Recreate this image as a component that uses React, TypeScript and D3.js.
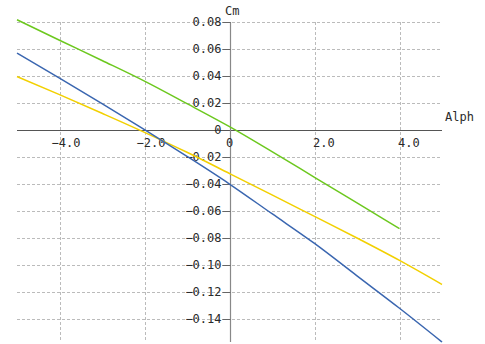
import React, { useEffect, useRef } from "react";
import * as d3 from "d3";

// angle of attack (deg)
const alpha = [-5, -4, -3, -2, -1, 0, 1, 2, 3, 4, 5];

// pitching moment coefficient for each run
const cmGreen = [0.0817, 0.0665, 0.0515, 0.0362, 0.0195, 0.0025, -0.016, -0.035, -0.054, -0.073];
const cmBlue = [0.057, 0.0385, 0.0196, 0.0003, -0.0195, -0.04, -0.062, -0.084, -0.108, -0.132, -0.157];
const cmYellow = [0.0396, 0.0262, 0.0124, -0.0017, -0.0165, -0.0322, -0.048, -0.064, -0.08, -0.0966, -0.1144];

const xTicks = [-4, -2, 0, 2, 4];
const yTicks = [0.08, 0.06, 0.04, 0.02, 0, -0.02, -0.04, -0.06, -0.08, -0.1, -0.12, -0.14];

const W = 485;
const H = 344;
const FONT = "'DejaVu Sans Mono', monospace";

const App = () => {
  const ref = useRef<SVGSVGElement>(null);

  useEffect(() => {
    document.body.style.margin = "0";
    const svg = d3.select(ref.current);
    svg.selectAll("*").remove();

    const x = d3.scaleLinear().domain([-5, 5]).range([17, 442]);
    const y = d3.scaleLinear().domain([-0.157, 0.08]).range([342, 22]);
    const [x0, x1] = x.range();
    const [y0, y1] = y.range();

    // grid
    const grid = svg.append("g").attr("stroke", "#bbb").attr("stroke-dasharray", "3,2").attr("stroke-width", 1);
    yTicks.filter(v => v !== 0).forEach(v => {
      const py = Math.round(y(v)) + 0.5;
      grid.append("line").attr("x1", x0).attr("x2", x1).attr("y1", py).attr("y2", py);
    });
    xTicks.filter(v => v !== 0).forEach(v => {
      const px = Math.round(x(v)) + 0.5;
      grid.append("line").attr("x1", px).attr("x2", px).attr("y1", y1).attr("y2", y0);
    });

    // axes
    const ax = Math.round(x(0)) + 0.5;
    const ay = Math.round(y(0)) + 0.5;
    svg.append("line").attr("x1", x0).attr("x2", x1).attr("y1", ay).attr("y2", ay)
      .attr("stroke", "#555").attr("stroke-width", 1);
    svg.append("line").attr("x1", ax).attr("x2", ax).attr("y1", y1).attr("y2", y0)
      .attr("stroke", "#888").attr("stroke-width", 1.2);

    // y ticks + labels
    yTicks.forEach(v => {
      const py = Math.round(y(v)) + 0.5;
      if (v !== 0) {
        svg.append("line").attr("x1", ax - 8).attr("x2", ax).attr("y1", py).attr("y2", py)
          .attr("stroke", "#666");
      }
      svg.append("text").attr("x", ax - 9).attr("y", py - 1).attr("dy", "0.35em")
        .attr("text-anchor", "end").attr("font-family", FONT).attr("font-size", 12)
        .attr("fill", "#2a2a2a").text(v === 0 ? "0" : d3.format(".2f")(v));
    });

    // x labels
    xTicks.forEach(v => {
      const px = x(v);
      const label = v === 0 ? "0" : d3.format(".1f")(v);
      const t = svg.append("text").attr("y", ay + 16).attr("font-family", FONT).attr("font-size", 12)
        .attr("fill", "#2a2a2a").text(label);
      if (v === 0) t.attr("x", px).attr("text-anchor", "middle");
      else t.attr("x", px - 1.5 - (v < 0 ? 6.5 : 0)).attr("text-anchor", "start");
    });

    // axis titles
    svg.append("text").attr("x", 225).attr("y", 15).attr("font-family", FONT).attr("font-size", 12)
      .attr("fill", "#2a2a2a").text("Cm");
    svg.append("text").attr("x", 445).attr("y", 121).attr("font-family", FONT).attr("font-size", 12)
      .attr("fill", "#2a2a2a").text("Alph");

    // curves
    const line = d3.line<[number, number]>().x(d => x(d[0])).y(d => y(d[1])).curve(d3.curveMonotoneX);
    const series: [number[], string][] = [
      [cmYellow, "#f2d000"],
      [cmBlue, "#3a66b0"],
      [cmGreen, "#6cc81e"],
    ];
    series.forEach(([vals, color]) => {
      const pts = vals.map((v, i) => [alpha[i], v] as [number, number]);
      svg.append("path").attr("d", line(pts)).attr("fill", "none")
        .attr("stroke", color).attr("stroke-width", 1.5);
    });
  }, []);

  return (
    <div style={{ position: "absolute", left: 0, top: 0 }}>
      <svg ref={ref} width={W} height={H} style={{ display: "block", background: "#fff" }} />
    </div>
  );
};

export default App;
